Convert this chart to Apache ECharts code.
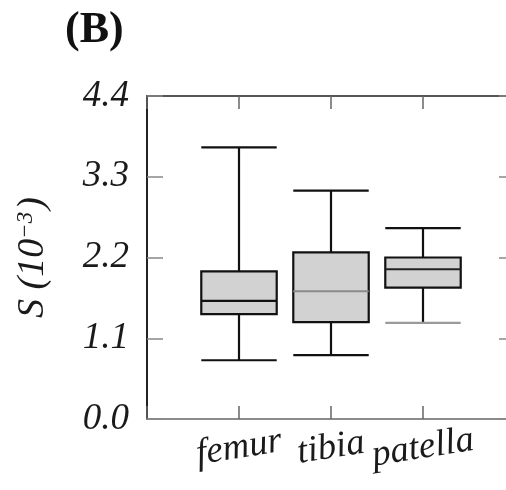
<!DOCTYPE html>
<html>
<head>
<meta charset="utf-8">
<script src="https://cdn.jsdelivr.net/npm/echarts@6/dist/echarts.min.js"></script>
<style>
  html, body { margin: 0; padding: 0; background: #fff; }
  #chart { width: 506px; height: 490px; }
</style>
</head>
<body>
<div id="chart"></div>
<script>
// Strain distribution per bone
const categories = ['femur', 'tibia', 'patella'];
const whiskerLow = [0.80, 0.87, 1.31];
const quartile1 = [1.43, 1.32, 1.79];
const medians = [1.61, 1.74, 2.04];
const quartile3 = [2.01, 2.27, 2.20];
const whiskerHigh = [3.70, 3.11, 2.60];
const yTickValues = [0.0, 1.1, 2.2, 3.3, 4.4];

// Per-box line colours
const medianColors = ['#111111', '#8a8a8a', '#222222'];
const lowCapColors = ['#111111', '#111111', '#9a9a9a'];

const serif = 'Liberation Serif';
const BOX_WIDTH = 0.82; // in x-axis units

const boxData = categories.map((c, i) => [
  i + 1, whiskerLow[i], quartile1[i], medians[i], quartile3[i], whiskerHigh[i]
]);

function renderBox(params, api) {
  const i = params.dataIndex;
  const x = api.value(0);
  const pLow = api.coord([x, api.value(1)]);
  const pQ1 = api.coord([x, api.value(2)]);
  const pMed = api.coord([x, api.value(3)]);
  const pQ3 = api.coord([x, api.value(4)]);
  const pHigh = api.coord([x, api.value(5)]);
  const half = api.size([BOX_WIDTH, 0])[0] / 2;
  const cx = pMed[0];
  const black = { stroke: '#111', lineWidth: 2.2 };
  const line = (x1, y1, x2, y2, style) => ({
    type: 'line', shape: { x1, y1, x2, y2 }, style: Object.assign({ fill: null }, style)
  });
  return {
    type: 'group',
    children: [
      line(cx, pHigh[1], cx, pQ3[1], black),
      line(cx, pQ1[1], cx, pLow[1], black),
      line(cx - half, pHigh[1], cx + half, pHigh[1], black),
      line(cx - half, pLow[1], cx + half, pLow[1], { stroke: lowCapColors[i], lineWidth: 2.2 }),
      {
        type: 'rect',
        shape: { x: cx - half, y: pQ3[1], width: half * 2, height: pQ1[1] - pQ3[1] },
        style: { fill: '#d2d2d2', stroke: '#111', lineWidth: 2.2 }
      },
      line(cx - half, pMed[1], cx + half, pMed[1], { stroke: medianColors[i], lineWidth: 2.2 })
    ]
  };
}

const chart = echarts.init(document.getElementById('chart'), null, { renderer: 'canvas' });

chart.setOption({
  backgroundColor: '#ffffff',
  animation: false,
  title: {
    text: '(B)',
    left: 60,
    top: 4,
    textStyle: { fontFamily: serif, fontWeight: 'bold', fontSize: 44, color: '#111' }
  },
  grid: {
    left: 147, right: -9, top: 96, bottom: 71,
    containLabel: false,
    outerBoundsMode: 'none'
  },
  xAxis: [
    {
      type: 'value', position: 'bottom', min: 0, max: 4, interval: 1,
      splitLine: { show: false },
      axisLine: { show: true, onZero: false, lineStyle: { color: '#8c8c8c', width: 2 } },
      axisTick: { show: true, inside: true, length: 13, lineStyle: { color: '#666', width: 1.5 } },
      axisLabel: {
        formatter: v => categories[v - 1] || '',
        rotate: 9,
        align: 'center',
        verticalAlign: 'middle',
        margin: 29,
        fontFamily: serif,
        fontStyle: 'italic',
        fontSize: 37,
        color: '#1a1a1a'
      }
    },
    {
      type: 'value', position: 'top', min: 0, max: 4, interval: 1,
      splitLine: { show: false },
      axisLine: { show: true, onZero: false, lineStyle: { color: '#555', width: 2 } },
      axisTick: { show: true, inside: true, length: 13, lineStyle: { color: '#666', width: 1.5 } },
      axisLabel: { show: false }
    }
  ],
  yAxis: [
    {
      type: 'value', position: 'left', min: 0, max: 4.4, interval: 1.1,
      splitLine: { show: false },
      axisLine: { show: true, onZero: false, lineStyle: { color: '#222', width: 2 } },
      axisTick: { show: true, inside: true, length: 16, lineStyle: { color: '#888', width: 1.5 } },
      axisLabel: {
        formatter: v => {
          const t = yTickValues.find(tv => Math.abs(tv - v) < 1e-6);
          return t === undefined ? '' : t.toFixed(1);
        },
        margin: 18,
        fontFamily: serif,
        fontStyle: 'italic',
        fontSize: 37,
        color: '#1a1a1a'
      },
      name: '{n|S (10}{s|−3}{n|)}',
      nameLocation: 'middle',
      nameRotate: 90,
      nameGap: 95,
      nameTextStyle: {
        rich: {
          n: { fontFamily: serif, fontStyle: 'italic', fontSize: 38, color: '#1a1a1a' },
          s: { fontFamily: serif, fontStyle: 'italic', fontSize: 23, color: '#1a1a1a', verticalAlign: 'top', padding: [0, 2, 14, 0] }
        }
      }
    },
    {
      type: 'value', position: 'right', min: 0, max: 4.4, interval: 1.1,
      splitLine: { show: false },
      axisLine: { show: true, onZero: false, lineStyle: { color: '#555', width: 2 } },
      axisTick: { show: true, inside: true, length: 16, lineStyle: { color: '#888', width: 1.5 } },
      axisLabel: { show: false }
    }
  ],
  series: [
    {
      type: 'custom',
      xAxisIndex: 0,
      yAxisIndex: 0,
      renderItem: renderBox,
      encode: { x: 0, y: [1, 2, 3, 4, 5] },
      data: boxData,
      clip: false
    }
  ]
});
</script>
</body>
</html>
